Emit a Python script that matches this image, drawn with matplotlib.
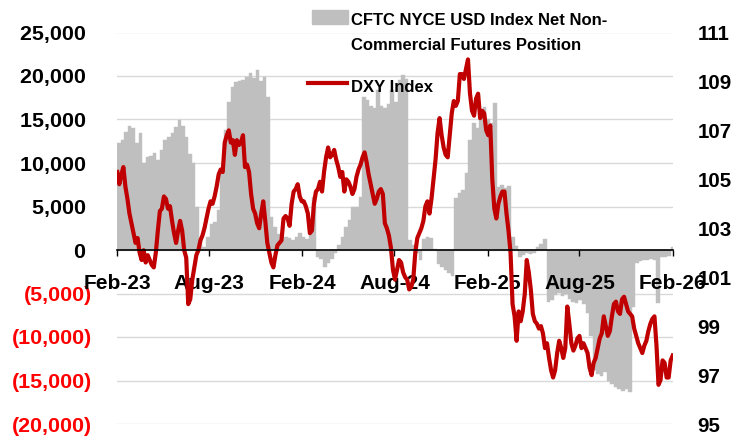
import numpy as np
import pandas as pd
import matplotlib
matplotlib.use("Agg")
import matplotlib.pyplot as plt
import matplotlib.dates as mdates
from matplotlib import font_manager
from matplotlib.patches import Rectangle
from matplotlib.lines import Line2D

# weekly CFTC net non-commercial position (contracts)
cftc_start = "2023-02-01"
cftc = [12300, 12600, 13600, 14200, 14000, 12300, 13400, 10000, 10700, 10800,
        11100, 10300, 11500, 12600, 13000, 13500, 14100, 14900, 14200, 13000,
        11000, 10000, 5000, 1200, 400, 1500, 3000, 3200, 4600, 9200,
        13800, 17000, 18700, 19300, 19400, 19500, 19900, 20300, 19800, 20700,
        19400, 19900, 17600, 3800, 2600, 1800, 1300, 1500, 1400, 1200,
        1500, 1900, 1500, 1300, 1800, 6100, -800, -1000, -1900, -1500,
        -1000, -300, 600, 1500, 2700, 3400, 4900, 5000, 6100, 17600,
        17200, 16600, 16300, 18400, 16500, 16300, 16800, 18400, 17000, 19500,
        20100, 19600, 1100, 600, -400, -1100, 1300, 1500, 1400, 100,
        -1600, -2000, -2300, -2700, -3000, 6000, 6600, 6900, 8800, 12600,
        14600, 14000, 16100, 16400, 15000, 14600, 16900, 7200, 7500, 7100,
        7300, 1500, 500, -800, -600, -400, -500, -300, 400, 700,
        1300, -6000, -5800, -5200, -4900, -5300, -5000, -5600, -6000, -6100,
        -5700, -6200, -7200, -9900, -13800, -14200, -14500, -14000, -15100, -15400,
        -15800, -16000, -16200, -16000, -16300, -6500, -1500, -1300, -1200, -1100,
        -1000, -1200, -6100, -800, -800, -700, 300]

# DXY index, one reading every 4 days
dxy_start = "2023-02-01"
dxy = [105.3, 104.8, 105.2, 105.5, 104.7, 104.2, 103.6, 103.2, 102.8, 102.4,
       102.6, 102.0, 101.7, 102.1, 101.6, 101.9, 101.7, 101.5, 101.4, 102.0,
       102.9, 103.7, 103.8, 104.3, 104.2, 103.8, 103.9, 103.3, 102.8, 102.4,
       102.9, 103.3, 102.9, 102.1, 101.8, 99.9, 100.1, 100.9, 101.4, 101.9,
       102.1, 102.5, 102.7, 103.0, 103.4, 103.8, 104.1, 104.0, 104.3, 104.7,
       105.2, 105.4, 105.3, 106.5, 106.8, 107.0, 106.5, 106.6, 106.0, 106.6,
       106.4, 106.5, 106.8, 105.5, 105.6, 105.3, 104.4, 103.8, 103.6, 103.2,
       103.0, 103.6, 104.1, 103.3, 102.4, 102.0, 101.6, 101.4, 101.9, 102.3,
       102.4, 102.5, 103.4, 103.5, 103.4, 103.1, 104.0, 104.5, 104.6, 104.8,
       104.3, 104.1, 104.1, 103.9, 103.6, 102.8, 102.9, 104.0, 104.5, 104.6,
       104.9, 104.5, 105.3, 105.9, 106.3, 105.9, 106.0, 106.2, 105.8, 105.5,
       105.1, 105.3, 104.5, 105.0, 104.9, 104.7, 104.4, 104.6, 105.1, 105.4,
       105.6, 105.9, 106.1, 105.7, 105.2, 104.8, 104.4, 104.0, 104.2, 104.5,
       104.6, 104.4, 103.2, 103.0, 102.7, 102.2, 101.3, 100.9, 101.3, 101.7,
       101.6, 101.2, 101.0, 100.9, 100.5, 100.6, 100.9, 102.0, 102.6, 102.8,
       103.0, 103.3, 103.9, 104.1, 103.6, 104.2, 105.0, 105.8, 106.9, 107.5,
       106.8, 106.3, 106.0, 105.9, 106.8, 107.7, 108.2, 108.0, 108.2, 109.3,
       109.3, 109.1, 109.5, 109.9, 108.5, 107.8, 107.6, 108.3, 108.5, 107.5,
       107.8, 107.7, 107.0, 106.8, 107.2, 105.0, 103.8, 103.4, 104.0, 104.3,
       104.5, 104.5, 103.6, 102.9, 102.0, 99.9, 99.4, 98.4, 99.6, 99.2,
       99.6, 100.3, 101.7, 101.2, 100.5, 99.5, 99.2, 99.1, 98.9, 99.0,
       98.7, 98.1, 98.3, 97.7, 97.2, 96.9, 97.2, 97.9, 98.4, 98.1,
       97.7, 98.1, 99.8, 99.1, 98.3, 98.0, 98.2, 98.5, 98.6, 98.1,
       98.3, 98.1, 97.9, 97.3, 97.0, 97.5, 97.7, 98.1, 98.5, 98.7,
       99.4, 99.0, 98.6, 98.8, 99.4, 99.9, 100.0, 99.6, 99.5, 100.1,
       100.2, 99.9, 99.6, 99.5, 99.4, 98.9, 98.6, 98.3, 98.1, 97.9,
       98.2, 98.4, 98.8, 99.1, 99.3, 99.4, 98.2, 96.6, 96.8, 97.6,
       97.5, 96.9, 96.9, 97.6, 97.8]

left_ticks = list(range(-20000, 25001, 5000))
right_ticks = list(range(95, 112, 2))
x_ticks = ["2023-02-01", "2023-08-01", "2024-02-01", "2024-08-01",
           "2025-02-01", "2025-08-01", "2026-02-01"]

label_bars = "CFTC NYCE USD Index Net Non-\nCommercial Futures Position"
label_line = "DXY Index"

# fonts: narrow bold if available
names = {f.name for f in font_manager.fontManager.ttflist}
if "Liberation Sans Narrow" in names:
    plt.rcParams["font.family"] = "Liberation Sans Narrow"
    left_fs, right_fs, x_fs, leg_fs = 18.5, 17.5, 18, 14.5
else:
    plt.rcParams["font.family"] = "Liberation Sans"
    left_fs, right_fs, x_fs, leg_fs = 15.4, 14.8, 15, 12
plt.rcParams["font.weight"] = "bold"

W, H = 745, 443
def fx(px):
    return px / W
def fy(py):
    return 1 - py / H

bar_dates = pd.date_range(cftc_start, periods=len(cftc), freq="7D")
dxy_dates = pd.date_range(dxy_start, periods=len(dxy), freq="4D")

fig = plt.figure(figsize=(W / 100, H / 100), dpi=100)
ax1 = fig.add_axes([fx(117.3), fy(424), (672.7 - 117.3) / W, (424 - 32.5) / H])

ax1.bar(bar_dates, cftc, width=7, align="edge", color="#BFBFBF",
        edgecolor="#BFBFBF", linewidth=0.3, zorder=2)
ax1.set_ylim(-20000, 25000)
ax1.set_yticks(left_ticks)
ax1.set_yticklabels([f"({-v:,})" if v < 0 else f"{v:,} " for v in left_ticks])
for lab, v in zip(ax1.get_yticklabels(), left_ticks):
    if v < 0:
        lab.set_color("#FF0000")
ax1.tick_params(axis="y", length=0, pad=18, labelsize=left_fs)
ax1.grid(axis="y", color="#D9D9D9", linewidth=1)
ax1.set_axisbelow(True)
ax1.tick_params(axis="x", bottom=False, labelbottom=False)
for s in ax1.spines.values():
    s.set_visible(False)

ax2 = ax1.twinx()
ax2.plot(dxy_dates, dxy, color="#C00000", linewidth=3.0, solid_joinstyle="round")
ax2.set_ylim(95, 111)
ax2.set_yticks(right_ticks)
ax2.tick_params(axis="y", length=0, pad=18, labelsize=right_fs)
for s in ax2.spines.values():
    s.set_visible(False)

# x axis drawn at the zero line of the left scale
ax2.xaxis.set_visible(True)
ax2.spines["bottom"].set_visible(True)
ax2.spines["bottom"].set_position(("axes", 20000 / 45000))
ax2.spines["bottom"].set_linewidth(1.2)
ax2.xaxis.set_ticks_position("bottom")
ax1.set_xlim(pd.Timestamp("2023-02-01"), pd.Timestamp("2026-02-01"))
ax2.set_xticks(pd.to_datetime(x_ticks))
ax2.xaxis.set_major_formatter(mdates.DateFormatter("%b-%y"))
ax2.tick_params(axis="x", direction="out", length=4.5, width=1, pad=13,
                labelsize=x_fs)

# legend
fig.add_artist(Rectangle((fx(312), fy(24)), (348 - 312) / W, 14 / H,
                         transform=fig.transFigure, color="#BFBFBF"))
fig.text(fx(351), fy(25), label_bars.split("\n")[0], fontsize=leg_fs, va="baseline")
fig.text(fx(351), fy(50), label_bars.split("\n")[1], fontsize=leg_fs, va="baseline")
fig.add_artist(Line2D([fx(308), fx(347)], [fy(83), fy(83)], transform=fig.transFigure,
                      color="#C00000", linewidth=3.0))
fig.text(fx(351), fy(92), label_line, fontsize=leg_fs, va="baseline")

fig.savefig("out.png", dpi=100, facecolor="white")
